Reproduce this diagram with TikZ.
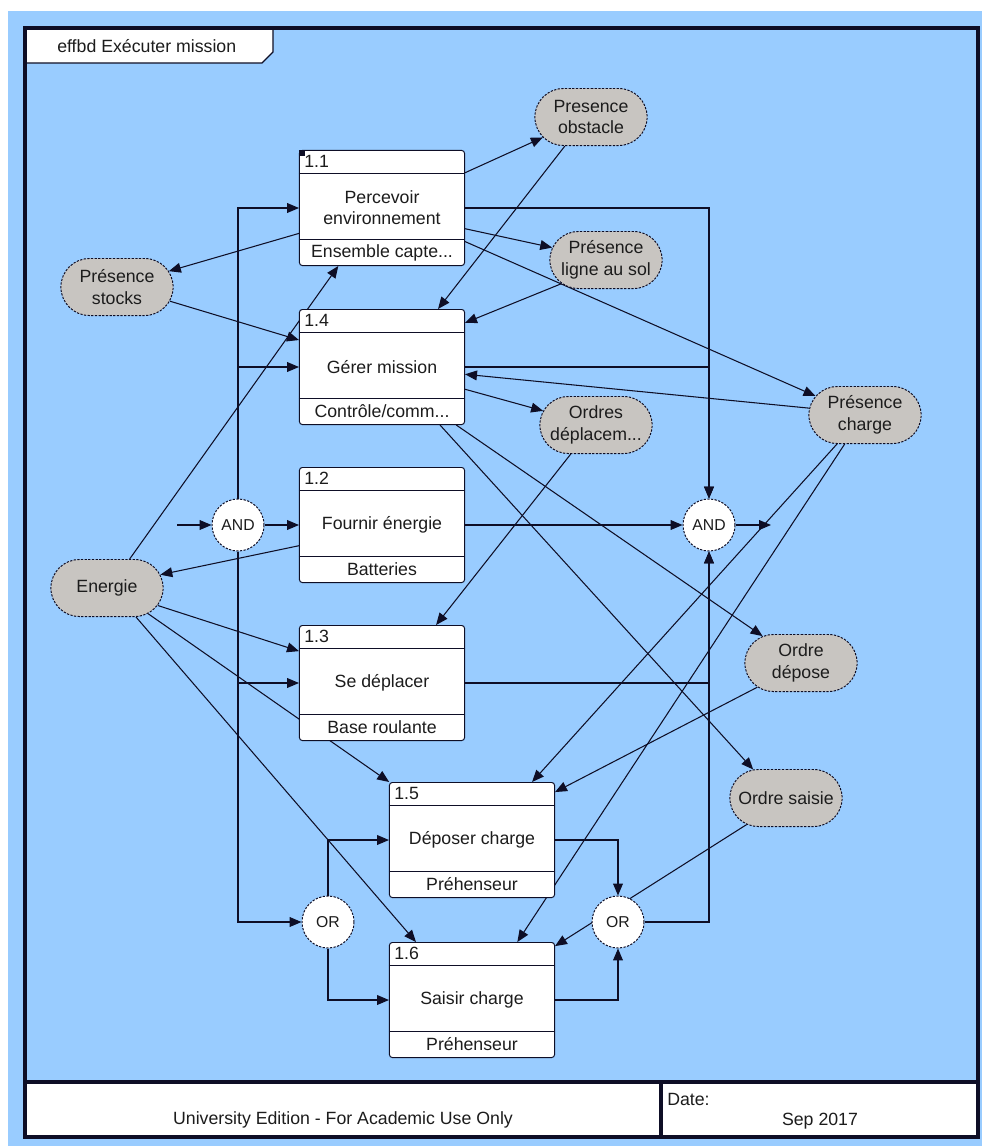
\documentclass[tikz,border=0pt]{standalone}
\usepackage{fontspec}
\setmainfont{Liberation Sans}
\usepackage{tikz}
\usetikzlibrary{positioning, arrows.meta, calc, shapes.misc}

\definecolor{fondbleu}{RGB}{153,204,255}
\definecolor{itemgris}{RGB}{200,197,193}
\definecolor{trait}{RGB}{14,14,38}
\definecolor{texte}{RGB}{28,28,28}

\pgfdeclarelayer{fond}
\pgfdeclarelayer{liens}
\pgfsetlayers{fond,liens,main}

\newcommand{\fonction}[5]{%
  \node[fnbox] (#1) at (#2) {#4};
  \draw[trait, line width=0.7pt] ($(#1.north west)+(0,23)$) -- ($(#1.north east)+(0,23)$);
  \draw[trait, line width=0.7pt] ($(#1.south west)+(0,-27)$) -- ($(#1.south east)+(0,-27)$);
  \node[fnnum] (#1-num) at ($(#1.north west)+(5,11.5)$) {#3};
  \node[fnres] (#1-res) at ($(#1.south)+(0,-13.5)$) {#5};
}

\begin{document}
\begin{tikzpicture}[
    x=0.025cm, y=-0.025cm,
    >={Triangle[length=8.5pt, width=7pt]},
    flux/.style={draw=trait, line width=0.75pt},
    fnbox/.style={rectangle, rounded corners=2pt, draw=trait, fill=white, line width=0.7pt,
        minimum width=4.125cm, minimum height=2.875cm, align=center, text=texte,
        font=\fontsize{12.6}{15}\selectfont},
    fnnum/.style={anchor=west, inner sep=0pt, text=texte, font=\fontsize{12.6}{15}\selectfont},
    fnres/.style={inner sep=0pt, text=texte, font=\fontsize{12.6}{15}\selectfont},
    item/.style={rounded rectangle, draw=trait, dash pattern=on 1.6pt off 1pt, fill=itemgris,
        line width=0.7pt, minimum width=2.875cm, minimum height=1.425cm, inner sep=1pt,
        align=center, text=texte, font=\fontsize{12.6}{15.4}\selectfont},
    porte/.style={circle, draw=trait, dash pattern=on 1.6pt off 1pt, fill=white, line width=0.7pt,
        minimum size=1.3cm, inner sep=0pt, text=texte, font=\fontsize{11.2}{13}\selectfont},
    cadre/.style={draw=trait, line width=2.2pt},
    legende/.style={inner sep=0pt, text=texte, font=\fontsize{12.6}{15}\selectfont}
]

\useasboundingbox (0,0) rectangle (982,1146);

\begin{pgfonlayer}{fond}
\fill[fondbleu] (8,11) rectangle (982,1146);
\end{pgfonlayer}

\draw[fill=white, draw=trait, line width=0.9pt] (25,28) -- (273,28) -- (273,52) -- (262,63) -- (25,63) -- cycle;
\node[legende, anchor=west] (titre) at (57,46) {effbd Exécuter mission};
\draw[cadre] (25,28) rectangle (978,1137);
\draw[cadre, fill=white] (25,1082) rectangle (978,1137);
\draw[cadre] (661,1082) -- (661,1137);
\node[legende] (edition) at (343,1120) {University Edition - For Academic Use Only};
\node[legende, anchor=west] (date) at (667,1099) {Date:};
\node[legende] (jour) at (820,1121) {Sep 2017};

\fonction{f11}{382,208}{1.1}{Percevoir\\environnement}{Ensemble capte...}
\fonction{f14}{382,367}{1.4}{Gérer mission}{Contrôle/comm...}
\fonction{f12}{382,525}{1.2}{Fournir énergie}{Batteries}
\fonction{f13}{382,683}{1.3}{Se déplacer}{Base roulante}
\fonction{f15}{472,840}{1.5}{Déposer charge}{Préhenseur}
\fonction{f16}{472,1000}{1.6}{Saisir charge}{Préhenseur}
\fill[trait] (f11.north west) rectangle ($(f11.north west)+(6,6)$);

\node[item] (stocks) at (117,287) {Présence\\stocks};
\node[item] (energie) at (107,588) {Energie};
\node[item] (obstacle) at (591,117) {Presence\\obstacle};
\node[item] (ligne) at (606,260) {Présence\\ligne au sol};
\node[item] (charge) at (865,415) {Présence\\charge};
\node[item] (ordres) at (596,425) {Ordres\\déplacem...};
\node[item] (depose) at (801,663) {Ordre\\dépose};
\node[item] (saisie) at (786,798) {Ordre saisie};

\node[porte] (andL) at (238,525) {AND};
\node[porte] (andR) at (709,525) {AND};
\node[porte] (orL) at (328,922) {OR};
\node[porte] (orR) at (618,922) {OR};
\coordinate (entree) at (177,525);
\coordinate (sortie) at (771,525);

\begin{pgfonlayer}{liens}
\draw[flux, ->] (entree) -- (andL);
\draw[flux, ->] (andL) -- (f12);
\draw[flux, ->] (andL.north) |- (f11.west);
\draw[flux, ->] (andL.north) |- (f14.west);
\draw[flux, ->] (andL.south) |- (f13.west);
\draw[flux, ->] (andL.south) |- (orL.west);
\draw[flux, ->] (orL.north) |- (f15.west);
\draw[flux, ->] (orL.south) |- (f16.west);
\draw[flux, ->] (f15.east) -| (orR.north);
\draw[flux, ->] (f16.east) -| (orR.south);
\draw[flux, ->] (orR.east) -| (andR.south);
\draw[flux, ->] (f13.east) -| (andR.south);
\draw[flux, ->] (f11.east) -| (andR.north);
\draw[flux, ->] (f14.east) -| (andR.north);
\draw[flux, ->] (f12) -- (andR);
\draw[flux, ->] (andR) -- (sortie);

\draw[flux, ->] (f11.23) -- (obstacle.203);
\draw[flux, ->] (obstacle.228) -- (f14.46);
\draw[flux, ->] (f11.197) -- (stocks.17);
\draw[flux, ->] (stocks.-15) -- (f14.162);
\draw[flux, ->] (f11.-14) -- (ligne.167);
\draw[flux, ->] (ligne.208) -- (f14.28);
\draw[flux, ->] (f11.-22) -- (charge.159);
\draw[flux, ->] (charge.173) -- (f14.-5);
\draw[flux, ->] (f14.-15) -- (ordres.165);
\draw[flux, ->] (ordres.229) -- (f13.47);
\draw[flux, ->] (f12.194) -- (energie.14);
\draw[flux, ->] (energie.52) -- (f11.233);
\draw[flux, ->] (energie.-19) -- (f13.159);
\draw[flux, ->] (energie.-32) -- (f15.145);
\draw[flux, ->] (energie.-45) -- (f16.134);
\draw[flux, ->] (f14.-38) -- (depose.145);
\draw[flux, ->] (f14.-45) -- (saisie.139);
\draw[flux, ->] (charge.226) -- (f15.44);
\draw[flux, ->] (charge.235) -- (f16.52);
\draw[flux, ->] (depose.209) -- (f15.30);
\draw[flux, ->] (saisie.214) -- (f16.33);
\end{pgfonlayer}

\end{tikzpicture}
\end{document}
